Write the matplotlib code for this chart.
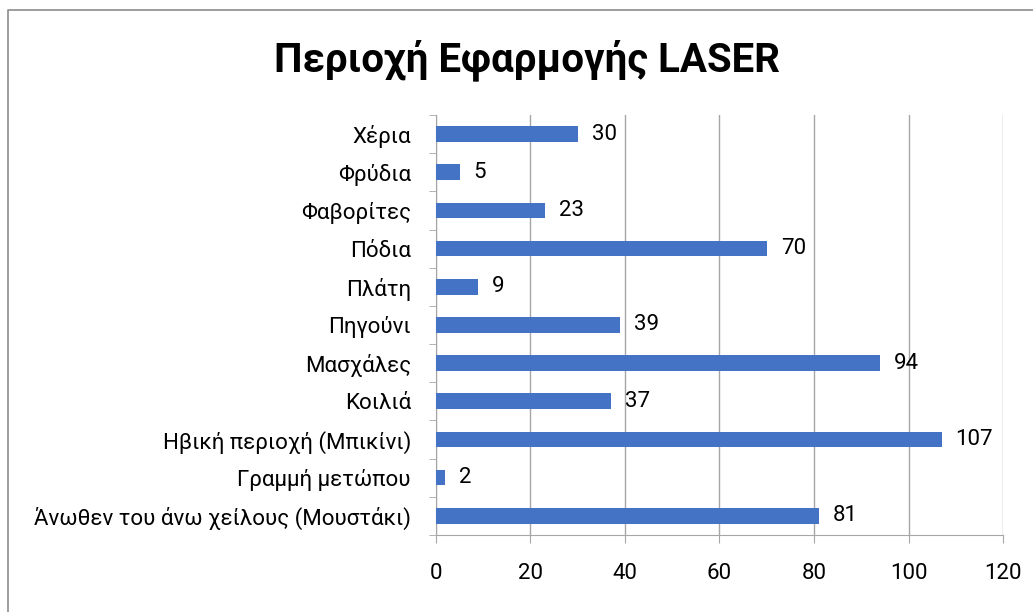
import matplotlib.pyplot as plt
from matplotlib.lines import Line2D
import numpy as np

plt.rcParams['font.family'] = ['Roboto', 'DejaVu Sans']

# bottom to top, as the chart shows them
areas = ['Άνωθεν του άνω χείλους (Μουστάκι)', 'Γραμμή μετώπου', 'Ηβική περιοχή (Μπικίνι)',
         'Κοιλιά', 'Μασχάλες', 'Πηγούνι', 'Πλάτη', 'Πόδια', 'Φαβορίτες', 'Φρύδια', 'Χέρια']
counts = [81, 2, 107, 37, 94, 39, 9, 70, 23, 5, 30]
xticks = [0, 20, 40, 60, 80, 100, 120]

fig = plt.figure(figsize=(10.33, 6.12), dpi=100)
ax = fig.add_axes([0.422, 0.126, 0.549, 0.686])

pos = np.arange(len(areas))
bars = ax.barh(pos, counts, height=0.41, color='#4472C4', zorder=3)
ax.bar_label(bars, padding=10, fontsize=16, color='black')

ax.set_xlim(0, 120)
ax.set_ylim(-0.5, len(areas) - 0.5)
ax.set_xticks(xticks)
ax.set_yticks(pos)
ax.set_yticklabels(areas)
ax.set_yticks(np.arange(-0.5, len(areas)), minor=True)

grey = '#A6A6A6'
ax.grid(axis='x', color=grey, linewidth=1, zorder=0)
for s in ['top', 'right']:
    ax.spines[s].set_visible(False)
for s in ['left', 'bottom']:
    ax.spines[s].set_color(grey)
ax.tick_params(axis='y', which='major', length=0, pad=18, labelsize=16)
ax.tick_params(axis='y', which='minor', length=5, color=grey)
ax.tick_params(axis='x', length=6, color=grey, pad=14, labelsize=16)

fig.text(0.51, 0.902, 'Περιοχή Εφαρμογής LASER', ha='center', va='center',
         fontsize=29, fontweight='bold')

# chart frame, only the top and left edges are visible
fig.add_artist(Line2D([0.0077, 0.0077, 1.0], [0.0, 0.9837, 0.9837],
                      transform=fig.transFigure, color='#8C8C8C', linewidth=1.2))

fig.savefig('out.png', dpi=100)
